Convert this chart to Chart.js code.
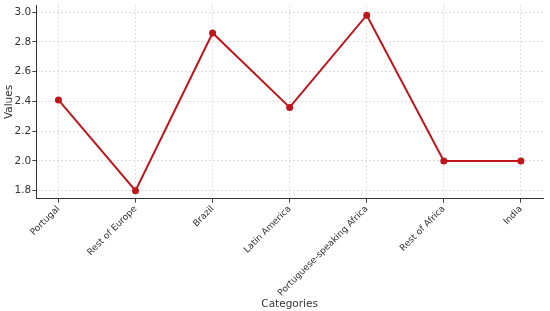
<!DOCTYPE html>
<html><head><meta charset="utf-8">
<script src="https://cdn.jsdelivr.net/npm/chart.js@4/dist/chart.umd.min.js"></script>
<style>html,body{margin:0;padding:0;background:#fff}#w{width:550px;height:311px}</style>
</head><body><div id="w"><canvas id="c"></canvas></div>
<script>
const categories = ["Portugal","Rest of Europe","Brazil","Latin America","Portuguese-speaking Africa","Rest of Africa","India"];
const values = [2.41, 1.80, 2.86, 2.36, 2.98, 2.00, 2.00];
const yTicks = [1.8, 2.0, 2.2, 2.4, 2.6, 2.8, 3.0];
const yMin = 1.746, yMax = 3.047;
const xMin = -0.287, xMax = 6.287;

Chart.defaults.font.family = "'DejaVu Sans', sans-serif";
Chart.defaults.color = '#333';
new Chart(document.getElementById('c'), {
  type: 'line',
  data: { datasets: [{
    data: values.map((v, i) => ({ x: i, y: v })),
    borderColor: '#c0161b', backgroundColor: '#c0161b',
    borderWidth: 2, pointRadius: 2.5, pointHoverRadius: 2.5, tension: 0
  }]},
  options: {
    responsive: true, maintainAspectRatio: false, animation: false,
    layout: { padding: { top: 0, right: 7, left: 0, bottom: 0 } },
    plugins: { legend: { display: false }, tooltip: { enabled: false } },
    scales: {
      x: {
        type: 'linear', min: xMin, max: xMax,
        afterBuildTicks: (axis) => { axis.ticks = categories.map((c, i) => ({ value: i })); },
        grid: { color: '#ddd', tickColor: '#444', tickLength: 4 },
        border: { color: '#333', width: 1, dash: [2, 2] },
        ticks: { autoSkip: false, maxRotation: 45, minRotation: 45, font: { size: 9 }, color: '#333', padding: 1,
                 callback: (v) => categories[Math.round(v)] },
        title: { display: true, text: 'Categories', font: { size: 10.5 }, color: '#333', padding: { top: -1, bottom: 0 } }
      },
      y: {
        min: yMin, max: yMax,
        afterBuildTicks: (axis) => { axis.ticks = yTicks.map(v => ({ value: v })); },
        grid: { color: '#ddd', tickColor: '#444', tickLength: 4 },
        border: { color: '#333', width: 1, dash: [2, 2] },
        ticks: { font: { size: 10.5, lineHeight: 0.8 }, color: '#333', padding: 1, callback: (v) => Number(v).toFixed(1) },
        title: { display: true, text: 'Values', font: { size: 10.5 }, color: '#333', padding: { top: 3, bottom: -2 } }
      }
    }
  }
});
</script></body></html>
